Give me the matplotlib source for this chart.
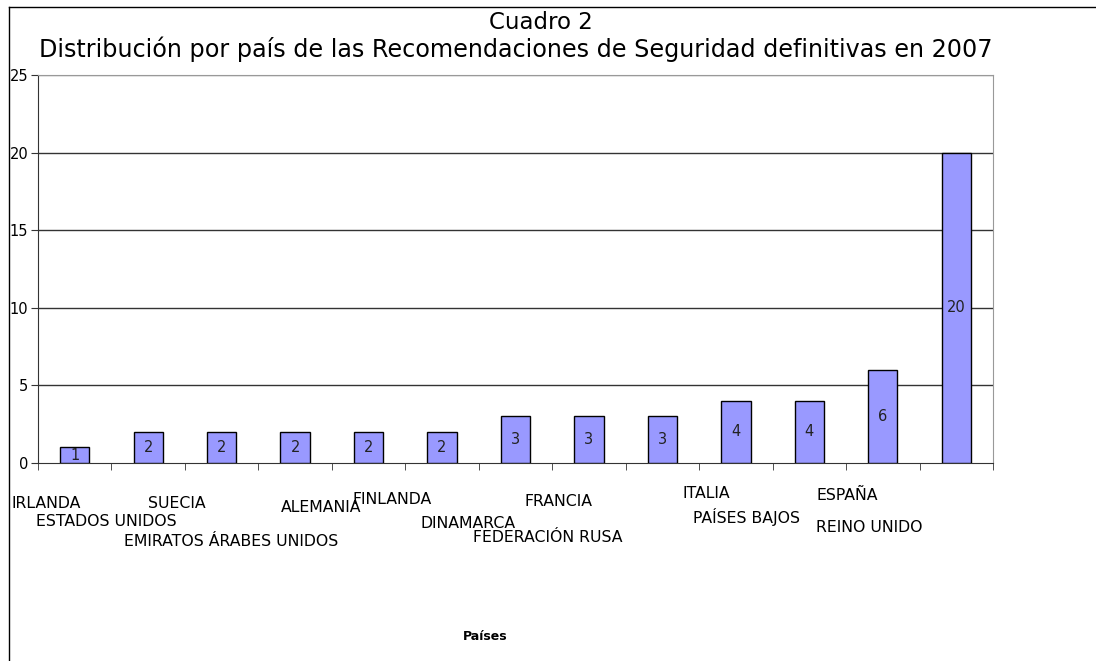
import matplotlib
matplotlib.use("Agg")
import matplotlib.pyplot as plt
from matplotlib.lines import Line2D
import matplotlib.transforms as mtransforms

countries = ["IRLANDA", "ESTADOS UNIDOS", "SUECIA", "EMIRATOS ÁRABES UNIDOS", "ALEMANIA",
             "FINLANDA", "DINAMARCA", "FRANCIA", "FEDERACIÓN RUSA", "ITALIA",
             "PAÍSES BAJOS", "ESPAÑA", "REINO UNIDO"]
values = [1, 2, 2, 2, 2, 2, 3, 3, 3, 4, 4, 6, 20]
yticks = [0, 5, 10, 15, 20, 25]

# pixel offsets of the staggered category labels (left edge dx, centre dy) relative to tick position
label_offsets = [(-63, -40), (-112, -58), (-74, -40), (-171, -78), (-88, -44),
                 (-90, -36), (-95, -60), (-64, -39), (-189, -74), (-53, -31),
                 (-116, -54), (-66, -32), (-140, -64)]

W, H = 1096, 661
fig = plt.figure(figsize=(W / 100, H / 100), dpi=100)
ax = fig.add_axes([38 / W, 1 - 463 / H, (993 - 38) / W, (463 - 75) / H])

x = list(range(len(values)))
bars = ax.bar(x, values, width=0.4, color="#9999FF", edgecolor="black", linewidth=1.0, zorder=3)
for b, v in zip(bars, values):
    ax.text(b.get_x() + b.get_width() / 2, v / 2, str(v), ha="center", va="center",
            fontsize=10.5, color="#222222", zorder=4)

ax.set_xlim(-0.5, len(values) - 0.5)
ax.set_ylim(0, 25)
ax.set_yticks(yticks)
ax.set_yticklabels([str(t) for t in yticks], fontsize=10.5)
for t in yticks[1:]:
    ax.axhline(t, color="#333333" if t < 25 else "#888888", linewidth=1.0, zorder=1)

# category boundary ticks (minor) and labels on major ticks
ax.set_xticks([i - 0.5 for i in range(len(values) + 1)], minor=True)
ax.set_xticks(x)
ax.set_xticklabels(countries, fontsize=11.3)
ax.tick_params(axis="x", which="major", length=0, pad=0)
ax.tick_params(axis="x", which="minor", length=5, direction="out", color="#333333")
ax.tick_params(axis="y", length=5, direction="out", color="#333333", pad=2)
for lab, (dx, dy) in zip(ax.get_xticklabels(), label_offsets):
    lab.set_horizontalalignment("left")
    lab.set_verticalalignment("center")
    lab.set_transform(lab.get_transform() + mtransforms.ScaledTranslation(dx / 100, dy / 100, fig.dpi_scale_trans))

for s in ["left", "bottom"]:
    ax.spines[s].set_color("#333333")
for s in ["top", "right"]:
    ax.spines[s].set_color("#999999")

fig.text(541 / W, 1 - 29 / H, "Cuadro 2", ha="center", va="baseline", fontsize=16.5)
fig.text(0.5 * (38 + 993) / W, 1 - 57 / H,
         "Distribución por país de las Recomendaciones de Seguridad definitivas en 2007",
         ha="center", va="baseline", fontsize=17.2)
fig.text(485 / W, 1 - 636 / H, "Países", ha="center", va="center", fontsize=9, fontweight="bold")

# outer chart-area frame (left and top edges visible)
fig.add_artist(Line2D([9 / W, 9 / W], [0, 1 - 7 / H], color="black", linewidth=1.0))
fig.add_artist(Line2D([9 / W, 1], [1 - 7 / H, 1 - 7 / H], color="black", linewidth=1.0))

fig.savefig("out.png", dpi=100)
